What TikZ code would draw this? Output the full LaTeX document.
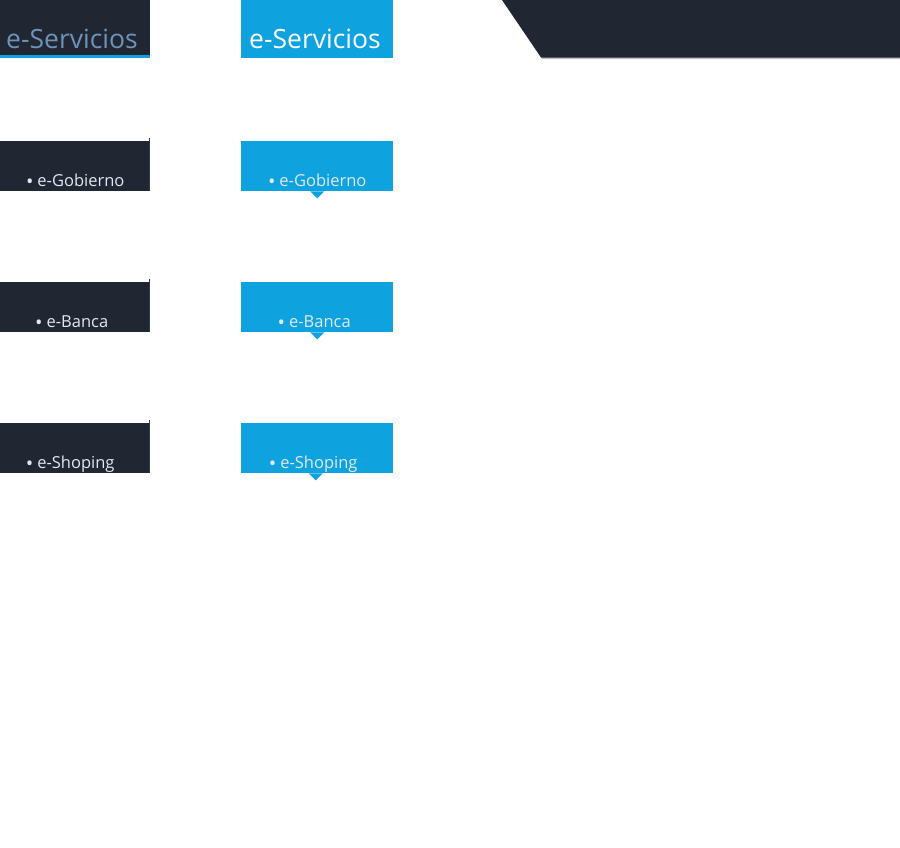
\documentclass[tikz,border=0pt]{standalone}
\usepackage{fontspec}
\setmainfont{Open Sans}
\usepackage{tikz}
\usepackage{xcolor}
\usetikzlibrary{calc, positioning}
\definecolor{navy}{RGB}{32,39,51}
\definecolor{sky}{RGB}{14,162,222}
\definecolor{steel}{RGB}{111,147,184}
\definecolor{pale}{RGB}{226,232,240}
\newcommand{\bul}{\raisebox{-2.3pt}{\scalebox{1.2}{•}}\hspace{4pt}}

\begin{document}
\begin{tikzpicture}[x=1pt, y=-1pt,
        darkbox/.style={fill=navy, minimum width=150pt, minimum height=50pt, inner sep=0pt, anchor=north west},
        bluebox/.style={fill=sky, minimum width=152pt, minimum height=50pt, inner sep=0pt, anchor=north west},
        item/.style={anchor=base, inner sep=0pt, font=\fontsize{16.5}{20}\selectfont},
        title/.style={anchor=base west, inner sep=0pt, font=\fontsize{26.5}{31}\selectfont}]
                        \useasboundingbox (0, 0) rectangle (900, 847);

                        % headers
                        \node[fill=navy, minimum width=150pt, minimum height=55pt, inner sep=0pt, anchor=north west] (head1) at (0, 0) {};
                        \fill[sky] (head1.south west) rectangle ($(head1.south east) + (0, 3)$);
                        \node[title, text=steel] (title1) at (6, 48) {e-Servicios};
                        \node[fill=sky, minimum width=152pt, minimum height=58pt, inner sep=0pt, anchor=north west] (head2) at (241, 0) {};
                        \node[title, text=white] (title2) at (249, 48) {e-Servicios};

                        % top right band
                        \fill[black!25] (503.5, 0) -- (542.5, 59) -- (900, 59) -- (900, 0) -- cycle;
                        \fill[navy] (502, 0) -- (541, 57.5) -- (900, 57.5) -- (900, 0) -- cycle;

                        % dark column
                        \node[darkbox] (gob1) at (0, 141) {};
                        \node[darkbox] (ban1) at (0, 282) {};
                        \node[darkbox] (sho1) at (0, 423) {};
                        \draw[navy!80!gray, line width=1pt]
                        ($(gob1.north east) + (-0.5, -3)$) edge ($(gob1.south east) + (-0.5, 0)$)
                        ($(ban1.north east) + (-0.5, -3)$) edge ($(ban1.south east) + (-0.5, 0)$)
                        ($(sho1.north east) + (-0.5, -3)$) edge ($(sho1.south east) + (-0.5, 0)$);
                        \node[item, text=pale] (gobtext1) at ($(gob1.south) + (0, -5)$) {\bul e-Gobierno};
                        \node[item, text=pale] (bantext1) at ($(ban1.south) + (-3.5, -5)$) {\bul e-Banca};
                        \node[item, text=pale] (shotext1) at ($(sho1.south) + (-5, -5)$) {\bul e-Shoping};

                        % blue column
                        \node[bluebox] (gob2) at (241, 141) {};
                        \node[bluebox] (ban2) at (241, 282) {};
                        \node[bluebox] (sho2) at (241, 423) {};
                        \fill[sky] ($(gob2.south) + (-7, 0)$) -- ++(7, 7) -- ++(7, -7) -- cycle;
                        \fill[sky] ($(ban2.south) + (-7, 0)$) -- ++(7, 7) -- ++(7, -7) -- cycle;
                        \fill[sky] ($(sho2.south) + (-8.5, 0)$) -- ++(7, 7) -- ++(7, -7) -- cycle;
                        \node[item, text=pale] (gobtext2) at ($(gob2.south) + (0, -5)$) {\bul e-Gobierno};
                        \node[item, text=pale] (bantext2) at ($(ban2.south) + (-3, -5)$) {\bul e-Banca};
                        \node[item, text=pale] (shotext2) at ($(sho2.south) + (-4, -5)$) {\bul e-Shoping};
                    \end{tikzpicture}
\end{document}
